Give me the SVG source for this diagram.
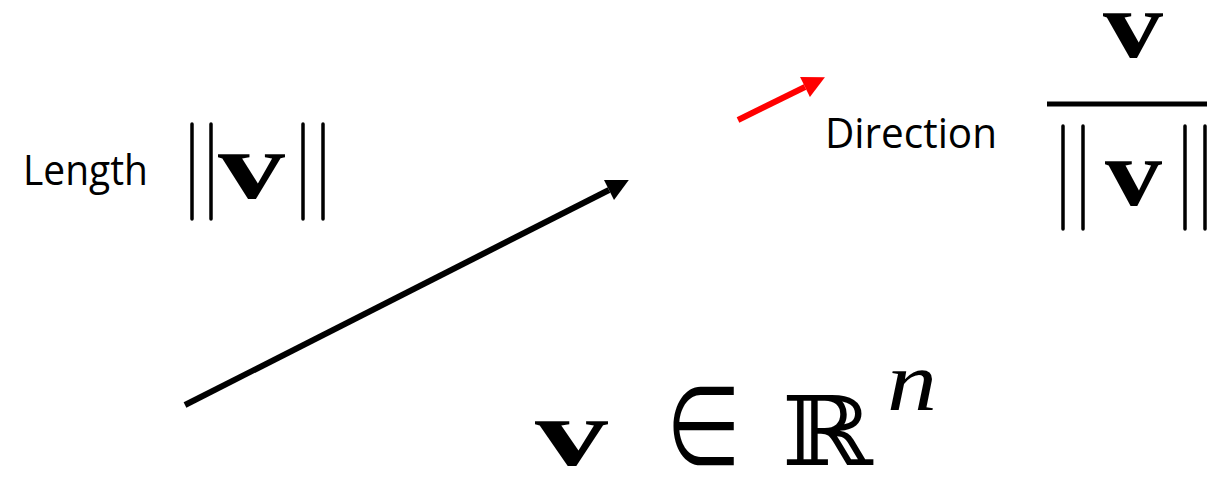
<svg xmlns="http://www.w3.org/2000/svg" width="1207" height="487" viewBox="0 0 1207 487">
<style>
.lbl{font-family:"Open Sans","Liberation Sans",sans-serif;font-size:42px;fill:#000}
.bv{font-family:"Liberation Serif",serif;font-weight:bold;font-size:96px;fill:#000}
.bar{stroke:#000;stroke-width:3.5;stroke-linecap:round}
.sym{font-family:"DejaVu Serif",serif;fill:#000}
</style>
<defs>
<marker id="hb" viewBox="0 0 10 10" markerWidth="4" markerHeight="3.7" refX="0" refY="5" orient="auto"><path d="M0,0 L10,5 L0,10 z" fill="#000"/></marker>
<marker id="hr" viewBox="0 0 10 10" markerWidth="4" markerHeight="3.7" refX="0" refY="5" orient="auto"><path d="M0,0 L10,5 L0,10 z" fill="#ff0000"/></marker>
</defs>
<rect width="1207" height="487" fill="#fff"/>
<g id="connectors">
<line x1="185" y1="405" x2="609" y2="190" stroke="#000" stroke-width="6" marker-end="url(#hb)"/>
<line x1="738" y1="120" x2="805" y2="87" stroke="#ff0000" stroke-width="6" marker-end="url(#hr)"/>
</g>
<g id="length">
<text class="lbl" x="23" y="185" font-size="45" textLength="125" lengthAdjust="spacingAndGlyphs">Length</text>
<line class="bar" x1="192" y1="124" x2="192" y2="219"/>
<line class="bar" x1="211" y1="124" x2="211" y2="219"/>
<text class="bv" x="218" y="198" textLength="67" lengthAdjust="spacingAndGlyphs">v</text>
<line class="bar" x1="303" y1="124" x2="303" y2="219"/>
<line class="bar" x1="323" y1="124" x2="323" y2="219"/>
</g>
<g id="direction">
<text class="lbl" x="825" y="148" font-size="40" textLength="172" lengthAdjust="spacingAndGlyphs">Direction</text>
<text class="bv" x="1103" y="57" font-size="98" textLength="60" lengthAdjust="spacingAndGlyphs">v</text>
<rect x="1047" y="101.5" width="165" height="5" fill="#000"/>
<line class="bar" x1="1063" y1="126" x2="1063" y2="229"/>
<line class="bar" x1="1083" y1="126" x2="1083" y2="229"/>
<text class="bv" x="1105" y="205" textLength="57" lengthAdjust="spacingAndGlyphs">v</text>
<line class="bar" x1="1185" y1="126" x2="1185" y2="229"/>
<line class="bar" x1="1205" y1="126" x2="1205" y2="229"/>
</g>
<g id="space">
<text class="bv" x="535" y="465" textLength="73" lengthAdjust="spacingAndGlyphs">v</text>
<text transform="translate(663.6,471) scale(0.84,1.26)" x="0" y="0" font-family="'Liberation Serif','Noto Sans CJK SC',serif" font-size="96" fill="#000">∈</text>
<text class="sym" x="782" y="465" font-size="96" textLength="91" lengthAdjust="spacingAndGlyphs">ℝ</text>
<text x="887" y="410" font-family="Liberation Serif,serif" font-style="italic" font-size="84" textLength="50" lengthAdjust="spacingAndGlyphs">n</text>
</g>
</svg>
